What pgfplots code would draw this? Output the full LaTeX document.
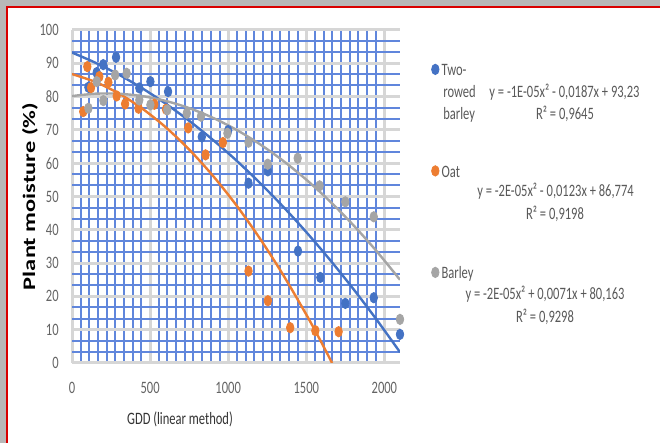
\documentclass[border=0pt]{standalone}
\usepackage{fontspec}
\setmainfont[FakeStretch=0.72]{Carlito}
\newfontfamily\ylabfont{Carlito}
\usepackage{pgfplots}
\pgfplotsset{compat=1.18}
\definecolor{sblue}{RGB}{68,114,196}
\definecolor{sorange}{RGB}{237,125,49}
\definecolor{sgray}{RGB}{165,165,165}
\definecolor{gridblue}{RGB}{96,134,220}
\definecolor{tickgray}{RGB}{100,100,100}
\definecolor{legtext}{RGB}{89,89,89}
\begin{document}
\begin{tikzpicture}
\begin{scope}[x=0.5pt,y=-0.5pt]
\path[use as bounding box] (0,0) rectangle (660,443);
\fill[black!28] (0,0) rectangle (660,443);
\fill[white] (7,7) rectangle (660,443);
\draw[red!85!black, line width=0.8pt] (7,443) -- (7,7) -- (660,7);
\end{scope}
\begin{axis}[
  at={(36pt,-181.5pt)}, anchor=south west,
  scale only axis, width=164pt, height=166.5pt,
  xmin=0, xmax=2100, ymin=0, ymax=100,
  xtick={0,500,1000,1500,2000}, ytick={0,10,...,100},
  minor x tick num=8, minor y tick num=2,
  grid=both,
  minor grid style={draw=gridblue, line width=1pt},
  major grid style={draw=black!16, line width=1.5pt},
  axis line style={draw=none},
  major tick style={draw=none}, minor tick style={draw=none},
  tick label style={font=\fontsize{8.7}{10}\selectfont, text=tickgray},
  /pgf/number format/assume math mode=true,
  /pgf/number format/1000 sep={},
  yticklabel style={inner sep=0pt, xshift=-6.5pt, anchor=east},
  xticklabel style={inner sep=0pt, yshift=-9.5pt, anchor=north},
  xlabel={GDD (linear method)},
  every axis x label/.style={at={(axis description cs:0.3293,0)}, anchor=center, yshift=-28pt, font=\fontsize{8.7}{10}\selectfont, text=black!80},
  ylabel={\scalebox{1}[0.72]{\ylabfont\bfseries\fontsize{12.2}{14}\selectfont Plant moisture (\%)}},
  every axis y label/.style={at={(axis description cs:-0.128,0.50)}, rotate=90, anchor=center},
  legend style={at={(axis description cs:1.0963,0.8979)}, anchor=north west, draw=none, fill=none, inner sep=0pt, outer sep=0pt, row sep=43.75pt, column sep=1.3pt, nodes={inner sep=0pt, text height=6pt, text depth=1pt, font=\fontsize{8.7}{10}\selectfont, text=legtext}, cells={anchor=west}},
  legend image code/.code={\draw[mark repeat=2,mark phase=2,yshift=0.8pt,#1] plot coordinates {(0pt,0pt)(2.2pt,0pt)(4.4pt,0pt)};},
]
\addplot[only marks, mark=*, mark size=2.6pt, color=sblue, mark options={xscale=0.72}] coordinates {
(105,82.8) (158,87.2) (200,89.6) (282,91.8) (431,82.6) (502,84.5) (615,81.5) (831,67.9) (1000,69.8) (1130,54) (1254,57.7) (1447,33.6) (1590,25.7) (1750,17.9) (1932,19.6) (2100,8.6)};
\addlegendentry{Two-}
\addplot[only marks, mark=*, mark size=2.6pt, color=sorange, mark options={xscale=0.72}] coordinates {
(72,75.5) (98,89) (122,82.7) (175,86) (233,84.3) (286,80.2) (340,77.8) (426,76.5) (527,77.7) (602,76.2) (744,70.6) (855,62.5) (966,66.2) (1130,27.6) (1254,18.7) (1397,10.6) (1558,9.7) (1707,9.4)};
\addlegendentry{Oat}
\addplot[only marks, mark=*, mark size=2.6pt, color=sgray, mark options={xscale=0.72}] coordinates {
(105,76.5) (158,84.5) (201,78.8) (276,86.5) (350,87) (431,79) (502,77.5) (610,76) (735,75) (826,74.1) (995,69) (1130,66.3) (1253,59.7) (1445,61.5) (1585,53.2) (1750,48.4) (1932,43.9) (2100,13.1)};
\addlegendentry{Barley}
\addplot[sblue, line width=1.2pt, smooth, forget plot] coordinates {
(0,93.23) (150,90.17) (300,86.59) (450,82.49) (600,77.87) (750,72.74) (900,67.09) (1050,60.92) (1200,54.23) (1350,47.03) (1500,39.31) (1650,31.07) (1800,22.31) (1950,13.04) (2100,3.25)};
\addplot[sorange, line width=1.2pt, smooth, forget plot] coordinates {
(0,86.77) (150,84.39) (300,80.93) (450,76.40) (600,70.79) (750,64.11) (900,56.35) (1050,47.51) (1200,37.60) (1350,26.61) (1500,14.55) (1600,5.91) (1665,0)};
\addplot[sgray, line width=1.2pt, smooth, forget plot] coordinates {
(0,80.16) (150,80.87) (300,80.86) (450,80.14) (600,78.70) (750,76.55) (900,73.68) (1050,70.10) (1200,65.80) (1350,60.79) (1500,55.06) (1650,48.62) (1800,41.46) (1950,33.59) (2100,25.00)};
\end{axis}
\begin{scope}[x=0.5pt,y=-0.5pt, every node/.style={inner sep=0pt, font=\fontsize{8.7}{10}\selectfont, text=legtext}]
\node[anchor=base west] at (443,98) {rowed};
\node[anchor=base west] at (443,120) {barley};
\node[anchor=base] at (564.5,98) {y = -1E-05x² - 0,0187x + 93,23};
\node[anchor=base] at (565,120) {R² = 0,9645};
\node[anchor=base] at (555.5,197) {y = -2E-05x² - 0,0123x + 86,774};
\node[anchor=base] at (555,220) {R² = 0,9198};
\node[anchor=base] at (545,300) {y = -2E-05x² + 0,0071x + 80,163};
\node[anchor=base] at (545,323) {R² = 0,9298};
\end{scope}
\end{tikzpicture}
\end{document}
